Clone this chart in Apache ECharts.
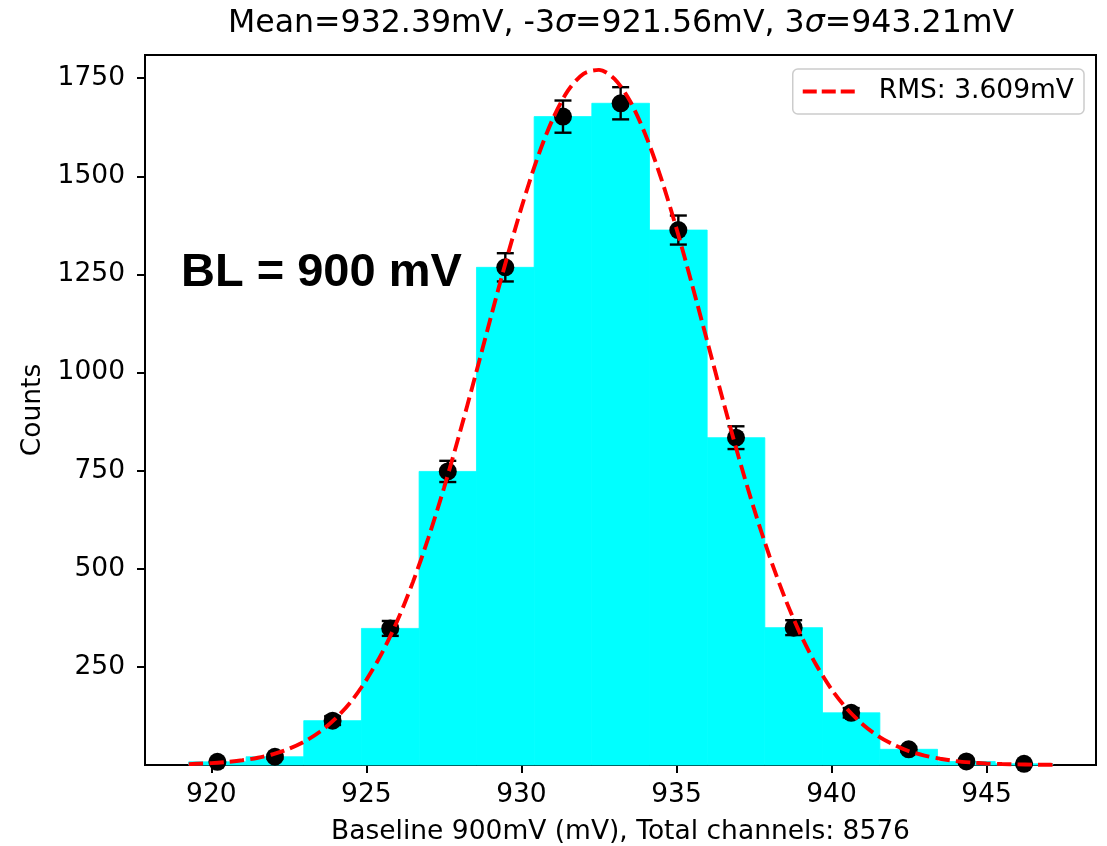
<!DOCTYPE html>
<html>
<head>
<meta charset="utf-8">
<style>
html,body{margin:0;padding:0;background:#fff;}
#chart{width:1107px;height:846px;}
</style>
<script src="https://cdn.jsdelivr.net/npm/echarts@6/dist/echarts.min.js"></script>
</head>
<body>
<div id="chart"></div>
<script>
// ---- data ----
const binEdges = [919.27, 921.12, 922.98, 924.84, 926.70, 928.55, 930.41, 932.27, 934.13, 935.99, 937.85, 939.71, 941.56, 943.42, 945.28, 947.14];
const counts   = [8, 21, 113, 348, 748, 1268, 1652, 1686, 1363, 834, 350, 133, 40, 9, 3];
const errors   = [3, 5, 11, 19, 27, 36, 41, 41, 37, 29, 19, 12, 6, 3, 2];
const fitX = [919.27, 919.5, 920, 920.5, 921, 921.5, 922, 922.5, 923, 923.5, 924, 924.5, 925, 925.5, 926, 926.5, 927, 927.5, 928, 928.5, 929, 929.5, 930, 930.5, 931, 931.5, 932, 932.5, 933, 933.5, 934, 934.5, 935, 935.5, 936, 936.5, 937, 937.5, 938, 938.5, 939, 939.5, 940, 940.5, 941, 941.5, 942, 942.5, 943, 943.5, 944, 944.5, 945, 945.5, 946, 946.5, 947, 947.14];
const fitY = [2.2, 3.0, 4.8, 7.7, 12.1, 18.5, 27.9, 41.2, 59.6, 84.7, 118, 161, 217, 285, 368, 466, 579, 705, 843, 988, 1137, 1283, 1420, 1543, 1644, 1718, 1761, 1771, 1748, 1692, 1606, 1496, 1367, 1225, 1077, 929, 786, 653, 532, 425, 333, 256, 193, 143, 104, 74, 52, 35, 24, 16, 10, 6.4, 4.0, 2.4, 1.5, 0.9, 0.5, 0.4];
const xTicks = [920, 925, 930, 935, 940, 945];
const yTicks = [250, 500, 750, 1000, 1250, 1500, 1750];
const titleText = 'Mean=932.39mV, -3{i|σ}=921.56mV, 3{i|σ}=943.21mV';
const xName = 'Baseline 900mV (mV), Total channels: 8576';
const yName = 'Counts';
const legendName = 'RMS: 3.609mV';
const noteText = 'BL = 900 mV';

const X_MIN = 917.86, X_MAX = 948.53, Y_MIN = 0, Y_MAX = 1809;
const FONT = '"DejaVu Sans", sans-serif';
const FS = 26.5;

const centers = counts.map((c, i) => (binEdges[i] + binEdges[i + 1]) / 2);
const histData = counts.map((c, i) => [binEdges[i], binEdges[i + 1], c]);
const pointData = counts.map((c, i) => [centers[i], c]);
const errData = counts.map((c, i) => [centers[i], c, errors[i]]);
const fitData = fitX.map((x, i) => [x, fitY[i]]);

const chart = echarts.init(document.getElementById('chart'), null, {renderer: 'canvas'});
chart.setOption({
  animation: false,
  backgroundColor: '#ffffff',
  title: {
    text: titleText,
    left: 223,
    top: 3,
    textStyle: {
      fontFamily: FONT, fontSize: 31.6, fontWeight: 'normal', color: '#000',
      rich: { i: { fontFamily: FONT, fontSize: 31.6, fontStyle: 'italic', color: '#000' } }
    }
  },
  grid: {
    left: 145, right: 11, top: 55, bottom: 81,
    outerBoundsMode: 'none', containLabel: false,
    show: true, borderColor: '#000', borderWidth: 2, backgroundColor: 'transparent'
  },
  legend: {
    right: 23, top: 69,
    padding: [9, 10, 9, 10],
    itemWidth: 52, itemHeight: 4,
    icon: 'path://M0,0h14v4h-14z M19,0h14v4h-14z M38,0h14v4h-14z',
    borderColor: '#cccccc', borderWidth: 1.5, borderRadius: 5,
    backgroundColor: '#fff',
    textStyle: { fontFamily: FONT, fontSize: FS, color: '#000', padding: [0, 0, 0, 19] },
    data: [{ name: legendName, itemStyle: { color: '#ff0000' } }]
  },
  xAxis: {
    type: 'value', min: X_MIN, max: X_MAX,
    name: xName, nameLocation: 'middle', nameGap: 54,
    nameTextStyle: { fontFamily: FONT, fontSize: FS, color: '#000' },
    axisLine: { show: false },
    axisTick: { show: true, length: 8, lineStyle: { color: '#000', width: 2 }, customValues: xTicks },
    axisLabel: { fontFamily: FONT, fontSize: FS, color: '#000', margin: 17, customValues: xTicks,
                 formatter: v => String(v) },
    splitLine: { show: false }
  },
  yAxis: {
    type: 'value', min: Y_MIN, max: Y_MAX,
    name: yName, nameLocation: 'middle', nameGap: 97,
    nameTextStyle: { fontFamily: FONT, fontSize: FS, color: '#000' },
    axisLine: { show: false },
    axisTick: { show: true, length: 8, lineStyle: { color: '#000', width: 2 }, customValues: yTicks },
    axisLabel: { fontFamily: FONT, fontSize: FS, color: '#000', margin: 20, customValues: yTicks,
                 formatter: v => String(v) },
    splitLine: { show: false }
  },
  series: [
    {
      name: 'hist', type: 'custom', data: histData, z: 1,
      encode: { x: [0, 1], y: 2 },
      renderItem: function (params, api) {
        const p0 = api.coord([api.value(0), api.value(2)]);
        const p1 = api.coord([api.value(1), 0]);
        return { type: 'rect', shape: { x: p0[0], y: p0[1], width: p1[0] - p0[0], height: p1[1] - p0[1] },
                 style: { fill: '#00ffff', stroke: '#00ffff', lineWidth: 0.8 } };
      }
    },
    {
      name: 'err', type: 'custom', data: errData, z: 3,
      encode: { x: 0, y: 1 },
      renderItem: function (params, api) {
        const x = api.value(0), y = api.value(1), e = api.value(2);
        const top = api.coord([x, y + e]);
        const bot = api.coord([x, y - e]);
        const w = 8.5;
        const st = { stroke: '#000', lineWidth: 2.4 };
        return { type: 'group', children: [
          { type: 'line', shape: { x1: top[0], y1: top[1], x2: bot[0], y2: bot[1] }, style: st },
          { type: 'line', shape: { x1: top[0] - w, y1: top[1], x2: top[0] + w, y2: top[1] }, style: st },
          { type: 'line', shape: { x1: bot[0] - w, y1: bot[1], x2: bot[0] + w, y2: bot[1] }, style: st }
        ] };
      }
    },
    {
      name: 'points', type: 'scatter', data: pointData, z: 4,
      symbol: 'circle', symbolSize: 18,
      itemStyle: { color: '#000', opacity: 1 }
    },
    {
      name: legendName, type: 'line', data: fitData, z: 5,
      smooth: 0.3, showSymbol: false, symbol: 'none',
      lineStyle: { color: '#ff0000', width: 3.9, type: [14.4, 6.2] },
      itemStyle: { color: '#ff0000' }
    }
  ],
  graphic: [
    {
      type: 'text', z: 10,
      style: { text: noteText, x: 181, y: 273, fill: '#000',
               font: 'bold 47px "Liberation Sans", Arial, sans-serif', verticalAlign: 'middle' }
    }
  ]
});
</script>
</body>
</html>
